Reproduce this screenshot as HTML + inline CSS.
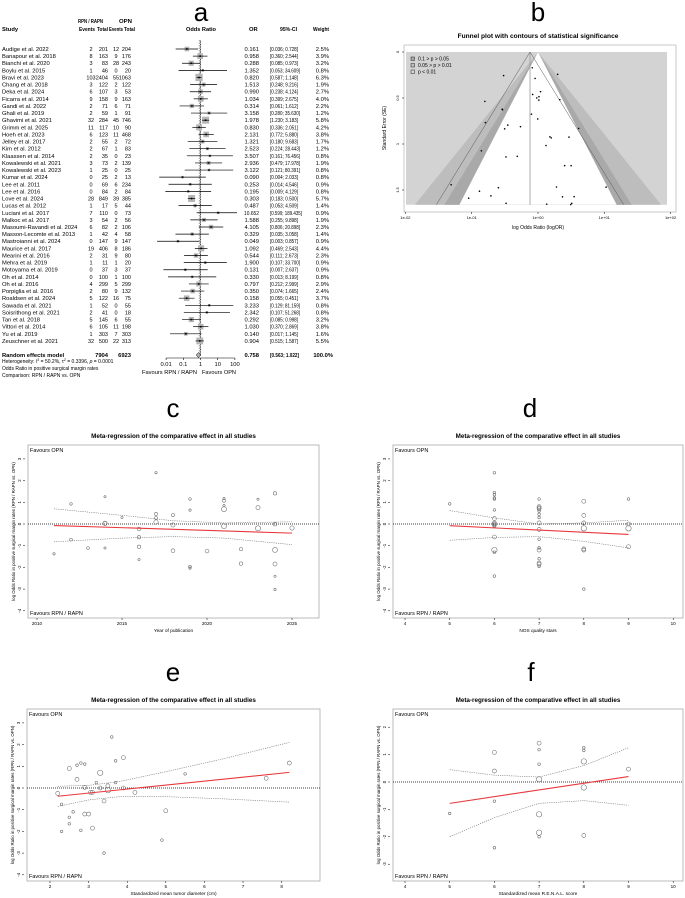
<!DOCTYPE html>
<html><head><meta charset="utf-8">
<style>
html,body{margin:0;padding:0;background:#fff;}
svg{display:block;font-family:"Liberation Sans",Arial,sans-serif;}
</style></head>
<body>
<svg id="fig" width="685" height="898" viewBox="0 0 685 898" xmlns="http://www.w3.org/2000/svg">
<g font-size="26" text-anchor="middle">
<text x="201" y="21">a</text>
<text x="538" y="21">b</text>
<text x="173" y="417">c</text>
<text x="530" y="417">d</text>
<text x="173" y="681">e</text>
<text x="531" y="681">f</text>
</g>
<g id="forest"></g>
<g id="funnel"></g>
<g id="regC"></g>
<g id="regD"></g>
<g id="regE"></g>
<g id="regF"></g>
</svg>
<script>
// ---------- forest data ----------
const studies=["Audige et al. 2022","Banapour et al. 2018","Bianchi et al. 2020","Boylu et al. 2015","Bravi et al. 2023","Chang et al. 2018","Deka et al. 2024","Ficarra et al. 2014","Gandi et al. 2022","Ghali et al. 2019","Ghavimi et al. 2021","Grimm et al. 2025","Hoeh et al. 2023","Jelley et al. 2017","Kim et al. 2012","Klaassen et al. 2014","Kowalewski et al. 2021","Kowalewski et al. 2023","Kumar et al. 2024","Lee et al. 2011","Lee et al. 2016","Love et al. 2024","Lucas et al. 2012","Luciani et al. 2017","Malkoc et al. 2017","Masoumi-Ravandi et al. 2024","Masson-Lecomte et al. 2013","Mastroianni et al. 2024","Maurice et al. 2017","Mearini et al. 2016","Mehra et al. 2019","Motoyama et al. 2019","Oh et al. 2014","Oh et al. 2016","Porpiglia et al. 2016","Roaldsen et al. 2024","Sawada et al. 2021","Soisrithong et al. 2021","Tan et al. 2018","Vittori et al. 2014","Yu et al. 2019","Zeuschner et al. 2021"];
const ev1=[2,8,3,1,103,3,6,9,2,2,32,11,6,2,2,2,3,1,0,0,0,28,1,7,3,6,1,0,19,2,1,0,0,4,2,5,1,2,5,6,1,32];
const tot1=[201,163,83,46,2404,122,107,158,71,59,284,117,123,55,67,35,73,25,25,69,84,849,17,110,54,82,42,147,406,31,11,37,100,299,80,122,52,41,145,105,303,500];
const ev2=[12,9,28,0,55,2,3,9,6,1,45,10,11,2,1,0,2,0,2,6,2,39,5,0,2,2,4,9,8,9,1,3,1,5,9,16,0,0,6,11,7,22];
const tot2=[204,176,243,20,1063,122,53,163,71,91,746,90,468,72,83,23,139,25,13,234,84,385,44,73,56,106,58,147,186,80,20,37,100,299,132,75,55,18,55,198,303,313];
const orVal=[0.161,0.958,0.288,1.352,0.820,1.513,0.990,1.034,0.314,3.158,1.978,0.830,2.131,1.321,2.523,3.507,2.936,3.122,0.090,0.253,0.195,0.303,0.487,10.652,1.588,4.105,0.329,0.049,1.092,0.544,1.900,0.131,0.330,0.797,0.350,0.158,3.233,2.342,0.292,1.030,0.140,0.904];
const ciLow=[0.036,0.360,0.085,0.053,0.587,0.248,0.238,0.399,0.061,0.280,1.230,0.336,0.772,0.180,0.224,0.161,0.479,0.121,0.004,0.014,0.009,0.183,0.053,0.599,0.255,0.806,0.035,0.003,0.469,0.111,0.107,0.007,0.013,0.212,0.074,0.055,0.129,0.107,0.085,0.370,0.017,0.515];
const ciHigh=[0.728,2.544,0.973,34.609,1.148,9.216,4.124,2.675,1.612,35.630,3.183,2.051,5.880,9.683,28.443,76.456,17.978,80.391,2.033,4.546,4.129,0.500,4.509,189.435,9.898,20.898,3.058,0.857,2.543,2.673,33.700,2.637,8.199,2.999,1.665,0.451,81.159,51.268,0.998,2.869,1.145,1.587];
const weights=[2.5,3.9,3.2,0.8,6.3,1.9,2.7,4.0,2.2,1.2,5.8,4.2,3.8,1.7,1.2,0.8,1.9,0.8,0.8,0.9,0.8,5.7,1.4,0.9,1.9,2.3,1.4,0.9,4.4,2.3,0.9,0.9,0.8,2.9,2.4,3.7,0.8,0.8,3.2,3.8,1.6,5.5];
const pooled=[0.758,0.563,1.022];
const forestTicks=[0.01,0.1,1,10,100];
const funnelTicks=[0.01,0.1,1,10,100];
const funnelTickLabels=["1e-02","1e-01","1e+00","1e+01","1e+02"];
const seTicks=[0,0.5,1.0,1.5];

// ---------- regression data ----------
const cCurveX=[2011,2015,2018,2021,2025];
const cUpper=[0.7,0.4,0.15,0.05,0.1];
const cLower=[-0.82,-0.65,-0.58,-0.65,-0.95];
const cFitX=[2011,2025];
const cFitY=[-0.07,-0.42];
const cTicksX=[2010,2015,2020,2025];

const dX=[5,6,6,6,6,6,6,6,6,6,6,6,6,6,6,6,7,7,7,7,7,7,7,7,7,7,7,7,7,7,7,7,8,8,8,8,8,8,8,9,9,9,9];
const dY=[0.93,2.36,1.45,1.35,1.2,1.15,0.65,0.25,0.05,0.0,-0.05,-0.1,-0.6,-1.2,-1.3,-2.4,1.15,0.8,0.75,0.7,0.6,0.45,0.3,0.05,-0.25,-0.7,-1.1,-1.2,-1.6,-1.8,-1.85,-1.95,1.05,0.4,0.05,-0.2,-1.15,-1.2,-3.0,1.15,0.0,-0.2,-1.05];
const dSize=[1,1,1,1,1,1,1,2,2,2,2,1,2,3,1,1,1,2,2,2,1,1,1,2,2,1,1,2,1,2,2,1,2,2,2,3,2,2,1,1,2,3,2];
const dCurveX=[5,6,7,8,9];
const dUpper=[0.62,0.28,0.0,0.05,0.17];
const dLower=[-0.75,-0.62,-0.58,-0.8,-1.1];
const dFitX=[5,9];
const dFitY=[-0.08,-0.48];
const dTicksX=[4,5,6,7,8,9,10];

const eX=[2.2,2.3,2.3,2.5,2.5,2.5,2.6,2.7,2.7,2.8,2.8,2.9,2.9,2.9,3.0,3.05,3.1,3.1,3.2,3.3,3.3,3.4,3.4,3.5,3.5,3.6,3.7,3.7,3.9,3.9,4.2,4.9,5.0,5.5,7.6,8.2];
const eY=[-0.25,-0.75,-2.0,0.9,-1.35,-1.65,-1.1,1.05,0.4,1.15,-1.95,1.1,0.03,-1.2,-1.2,-0.2,-0.2,-1.85,0.25,0.7,0.0,-0.6,-3.0,0.1,-0.1,2.35,1.25,0.25,1.4,0.0,-0.2,-2.4,-1.05,0.65,0.45,1.15];
const eSize=[2,1,1,2,1,1,1,1,2,1,1,1,2,2,2,2,2,2,1,3,2,2,1,2,3,1,1,1,2,2,2,1,2,1,2,2];
const eCurveX=[2.2,3.0,3.8,5.0,6.5,8.2];
const eUpper=[0.08,0.12,0.3,0.75,1.35,2.1];
const eLower=[-0.85,-0.55,-0.4,-0.4,-0.5,-0.65];
const eFitX=[2.2,8.2];
const eFitY=[-0.38,0.72];
const eTicksX=[2,3,4,5,6,7,8];

const fX=[5,6,6,6,6,7,7,7,7,7,7,7,8,8,8,8,8,9];
const fY=[-1.15,1.08,0.4,-0.7,-2.4,1.42,1.18,0.65,0.1,-1.18,-1.85,-2.0,1.25,1.15,0.75,-0.2,-1.95,0.47];
const fSize=[1,2,2,1,1,2,1,1,3,3,3,1,1,1,3,3,2,2];
const fCurveX=[5,6,7,8,9];
const fUpper=[0.45,0.25,0.18,0.6,1.25];
const fLower=[-2.0,-1.3,-0.78,-0.68,-0.85];
const fFitX=[5,9];
const fFitY=[-0.78,0.2];
const fTicksX=[4,5,6,7,8,9,10];

const NS="http://www.w3.org/2000/svg";
function mk(parent,tag,attrs,text){const e=document.createElementNS(NS,tag);for(const k in attrs)e.setAttribute(k,attrs[k]);if(text!==undefined)e.textContent=text;parent.appendChild(e);return e;}
function fit(el,w){el.setAttribute('textLength',w);el.setAttribute('lengthAdjust','spacingAndGlyphs');return el;}

// ---------- forest plot ----------
(function(){
const g=document.getElementById('forest');
const fx=v=>200.5+17.2*Math.log10(v);
const rowY=i=>49+7.12*i;
const hdr=mk(g,'g',{'font-size':'5.8','font-weight':'bold'});


fit(mk(hdr,'text',{x:78,y:23},'RPN / RAPN'),25);
fit(mk(hdr,'text',{x:119,y:23},'OPN'),13);
mk(hdr,'text',{x:2,y:31},'Study');
fit(mk(hdr,'text',{x:79,y:31},'Events'),16);
fit(mk(hdr,'text',{x:97,y:31},'Total'),11);
fit(mk(hdr,'text',{x:109,y:31},'Events'),14);
fit(mk(hdr,'text',{x:124,y:31},'Total'),11);
fit(mk(hdr,'text',{x:186,y:31},'Odds Ratio'),30);
mk(hdr,'text',{x:249,y:31},'OR');
fit(mk(hdr,'text',{x:280,y:31},'95%-CI'),17);
fit(mk(hdr,'text',{x:313,y:31},'Weight'),16);
const l1=mk(g,'line',{x1:fx(1),y1:40,x2:fx(1),y2:356,stroke:'#000','stroke-width':0.7});


const l2=mk(g,'line',{x1:fx(pooled[0])+1.5,y1:40,x2:fx(pooled[0])+1.5,y2:356,stroke:'#aaa','stroke-width':2.2,'stroke-dasharray':'1.5,1'});


for(let i=0;i<studies.length;i++){
  const y=rowY(i);
  const row=mk(g,'g',{'font-size':'5.8'});
  
  
  mk(row,'text',{x:2,y:y+2},studies[i]);
  mk(row,'text',{x:91,y:y+2,'text-anchor':'middle','font-size':'5.5'},ev1[i]);
  mk(row,'text',{x:108,y:y+2,'text-anchor':'end','font-size':'5.5'},tot1[i]);
  mk(row,'text',{x:116,y:y+2,'text-anchor':'middle','font-size':'5.5'},ev2[i]);
  mk(row,'text',{x:131,y:y+2,'text-anchor':'end','font-size':'5.5'},tot2[i]);
  const ot=mk(row,'text',{x:259,y:y+2,'text-anchor':'end'},orVal[i].toFixed(3));
  if(orVal[i]>=10) fit(ot,15);
  const cl=mk(row,'text',{x:270,y:y+2},'['+ciLow[i].toFixed(3)+'; '+ciHigh[i].toFixed(3)+']');
  const len=ciHigh[i]>=100?32:(ciHigh[i]>=10?30:28);
  fit(cl,len);
  mk(row,'text',{x:329,y:y+2,'text-anchor':'end'},weights[i].toFixed(1)+'%');
  const s=2.9*Math.sqrt(weights[i]);
  const sq=mk(g,'rect',{x:fx(orVal[i])-s/2,y:y-s/2,width:s,height:s,fill:'#b5b5b5'});
  
  
  const x1=Math.max(fx(ciLow[i]),155),x2=Math.min(fx(ciHigh[i]),237);
  const ci=mk(g,'line',{x1:x1,y1:y,x2:x2,y2:y,stroke:'#000','stroke-width':0.7});
  
  
  const pt=mk(g,'rect',{x:fx(orVal[i])-0.8,y:y-0.8,width:1.6,height:1.6,fill:'#000'});
  
  
}
const py=355;
const tot=mk(g,'g',{'font-size':'5.8','font-weight':'bold'});


mk(tot,'text',{x:2,y:py+2},'Random effects model');
mk(tot,'text',{x:108,y:py+2,'text-anchor':'end'},tot1.reduce((a,b)=>a+b,0));
mk(tot,'text',{x:131,y:py+2,'text-anchor':'end'},tot2.reduce((a,b)=>a+b,0));
mk(tot,'text',{x:259,y:py+2,'text-anchor':'end'},pooled[0].toFixed(3));
fit(mk(tot,'text',{x:270,y:py+2},'['+pooled[1].toFixed(3)+'; '+pooled[2].toFixed(3)+']'),29);
mk(tot,'text',{x:333,y:py+2,'text-anchor':'end'},'100.0%');
const dm=mk(g,'polygon',{points:`${fx(pooled[1])},${py} ${fx(pooled[0])},${py-2.5} ${fx(pooled[2])},${py} ${fx(pooled[0])},${py+2.5}`,fill:'#b5b5b5',stroke:'#000','stroke-width':0.5});


const ax=mk(g,'line',{x1:fx(0.01),y1:358,x2:fx(100),y2:358,stroke:'#000','stroke-width':0.6});


forestTicks.forEach(t=>{
  mk(g,'line',{x1:fx(t),y1:358,x2:fx(t),y2:360,stroke:'#000','stroke-width':0.6});
  const tl=mk(g,'text',{x:fx(t),y:366,'font-size':'5.8','text-anchor':'middle'},String(t));
  
  
});
const fl=fit(mk(g,'text',{x:142,y:374,'font-size':'5.8'},'Favours RPN / RAPN'),55);


const fr=fit(mk(g,'text',{x:202,y:374,'font-size':'5.8'},'Favours OPN'),34);


const notes=mk(g,'g',{'font-size':'5'});


const het=mk(notes,'text',{x:2,y:363});
het.innerHTML='Heterogeneity: <tspan font-style="italic">I</tspan><tspan dy="-2" font-size="3.5">2</tspan><tspan dy="2"> = 50.2%, τ</tspan><tspan dy="-2" font-size="3.5">2</tspan><tspan dy="2"> = 0.3396, </tspan><tspan font-style="italic">p</tspan> = 0.0001';
mk(notes,'text',{x:2,y:370},'Odds Ratio in positive surgical margin rates');
mk(notes,'text',{x:2,y:377},'Comparison: RPN / RAPN vs. OPN');
})();

// ---------- funnel plot ----------
(function(){
const g=document.getElementById('funnel');
const cx=538,k=66.3/Math.LN10;
const fx=v=>cx+66.3*Math.log10(v);
const fy=s=>52+92*s;
const seMax=1.66,yb=fy(seMax);
const title=mk(g,'text',{x:538,y:38,'font-size':'6.6','font-weight':'bold','text-anchor':'middle'},'Funnel plot with contours of statistical significance');


const fr=mk(g,'rect',{x:404,y:45,width:272,height:167,fill:'#fff',stroke:'#bbb','stroke-width':0.8});


const bg=mk(g,'rect',{x:406,y:52,width:261,height:yb-52,fill:'#d3d3d3'});


[[2.576,'#bdbdbd','contour-p-001-005'],[1.96,'#a9a9a9','contour-p-005-010'],[1.645,'#ffffff','contour-p-above-010']].forEach(([z,c,n])=>{
  const w=z*seMax*k;
  const p=mk(g,'polygon',{points:`${cx},52 ${cx-w},${yb} ${cx+w},${yb}`,fill:c});
  
  
});
const pc=fx(pooled[0]);
const vl=mk(g,'line',{x1:pc,y1:52,x2:pc,y2:yb,stroke:'#999','stroke-width':0.8});


[-1,1].forEach(sg=>{
  const dl=mk(g,'line',{x1:pc,y1:52,x2:pc+sg*1.96*seMax*k,y2:yb,stroke:'#555','stroke-width':0.5});
  
  
});
for(let i=0;i<orVal.length;i++){
  const se=(Math.log(ciHigh[i])-Math.log(ciLow[i]))/3.92;
  const d=mk(g,'circle',{cx:fx(orVal[i]),cy:fy(se),r:0.8,fill:'#000'});
  
  
}
const lg=mk(g,'g',{'font-size':'5'});


[['0.1 > p > 0.05','#a9a9a9'],['0.05 > p > 0.01','#bdbdbd'],['p < 0.01','#d3d3d3']].forEach((it,j)=>{
  mk(lg,'rect',{x:411,y:57+j*6.5,width:3.5,height:3.5,fill:it[1],stroke:'#000','stroke-width':0.4});
  mk(lg,'text',{x:418,y:60.5+j*6.5},it[0]);
});
funnelTicks.forEach((t,j)=>{
  mk(g,'line',{x1:fx(t),y1:212,x2:fx(t),y2:214,stroke:'#000','stroke-width':0.5});
  const tl=mk(g,'text',{x:fx(t),y:219,'font-size':'4','text-anchor':'middle'},funnelTickLabels[j]);
  
  
});
seTicks.forEach(t=>{
  mk(g,'line',{x1:402,y1:fy(t),x2:404,y2:fy(t),stroke:'#000','stroke-width':0.5});
  const tl=mk(g,'text',{x:399,y:fy(t),'font-size':'4','text-anchor':'middle',transform:`rotate(-90 399 ${fy(t)})`},String(t));
  
  
});
const xt=mk(g,'text',{x:538,y:229,'font-size':'5','text-anchor':'middle'},'log Odds Ratio (logOR)');


const yt=mk(g,'text',{x:386,y:128,'font-size':'5','text-anchor':'middle',transform:'rotate(-90 386 128)'},'Standard Error (SE)');


})();

// ---------- regression plots ----------
function drawReg(id,o){
  const g=document.getElementById(id);
  const X=v=>o.x0px+(v-o.x0)*o.xs;
  const Y=v=>o.y0px-v*o.ys;
  const t=mk(g,'text',{x:(o.L+o.R)/2,y:o.T-7,'font-size':'6.3','font-weight':'bold','text-anchor':'middle'},'Meta-regression of the comparative effect in all studies');
  
  
  const fr=mk(g,'rect',{x:o.L,y:o.T,width:o.R-o.L,height:o.B-o.T,fill:'#fff',stroke:'#aaa','stroke-width':0.8});
  
  
  const zl=mk(g,'line',{x1:o.L,y1:Y(0),x2:o.R,y2:Y(0),stroke:'#000','stroke-width':0.7,'stroke-dasharray':'1,1'});
  
  
  const ft=mk(g,'text',{x:o.L+2,y:o.T+7,'font-size':'5.5'},'Favours OPN');
  
  
  const fb=mk(g,'text',{x:o.L+2,y:o.B-3,'font-size':'5.5'},'Favours RPN / RAPN');
  
  
  for(let i=0;i<o.px.length;i++){
    const c=mk(g,'circle',{cx:X(o.px[i]),cy:Y(o.py[i]),r:o.pr[i],fill:'none',stroke:'#666','stroke-width':0.55});
    
    
  }
  [o.up,o.lo].forEach((arr,j)=>{
    const p=mk(g,'polyline',{points:o.cx.map((v,i)=>X(v)+','+Y(arr[i])).join(' '),fill:'none',stroke:'#777','stroke-width':0.6,'stroke-dasharray':'1.2,1'});
    
    
  });
  const rl=mk(g,'line',{x1:X(o.fx[0]),y1:Y(o.fy[0]),x2:X(o.fx[1]),y2:Y(o.fy[1]),stroke:'#e8383d','stroke-width':1.1});
  
  
  o.xt.forEach(v=>{
    mk(g,'line',{x1:X(v),y1:o.B,x2:X(v),y2:o.B+2,stroke:'#000','stroke-width':0.5});
    const tl=mk(g,'text',{x:X(v),y:o.B+7,'font-size':'4.6','text-anchor':'middle'},String(v));
    
    
  });
  for(let v=o.yMin;v<=o.yMax;v++){
    mk(g,'line',{x1:o.L-5,y1:Y(v),x2:o.L-3,y2:Y(v),stroke:'#000','stroke-width':0.5});
    const tl=mk(g,'text',{x:o.L-7,y:Y(v),'font-size':'4.3','text-anchor':'middle',transform:`rotate(-90 ${o.L-7} ${Y(v)})`},String(v));
    
    
  }
  const xtt=mk(g,'text',{x:(o.L+o.R)/2,y:o.B+14,'font-size':'4.8','text-anchor':'middle'},o.xTitle);
  
  
  const ym=(o.T+o.B)/2,yx=o.L-13;
  const ytt=mk(g,'text',{x:yx,y:ym,'font-size':'4.4','text-anchor':'middle',transform:`rotate(-90 ${yx} ${ym})`},'log Odds Ratio in positive surgical margin rates (RPN / RAPN vs. OPN)');
  
  
}
const years=studies.map(s=>+s.slice(-4));
drawReg('regC',{L:28,R:319,T:445,B:618,x0:2010,x0px:37,xs:17,y0px:524,ys:21.7,yMin:-4,yMax:3,
  px:years,py:orVal.map(v=>Math.log(v)),pr:weights.map(w=>0.3+0.9*Math.sqrt(w)),
  cx:cCurveX,up:cUpper,lo:cLower,fx:cFitX,fy:cFitY,xt:cTicksX,xTitle:'Year of publication'});
drawReg('regD',{L:393,R:683,T:445,B:618,x0:4,x0px:405,xs:44.7,y0px:524,ys:21.7,yMin:-4,yMax:3,
  px:dX,py:dY,pr:dSize.map(s=>0.6+0.7*s),
  cx:dCurveX,up:dUpper,lo:dLower,fx:dFitX,fy:dFitY,xt:dTicksX,xTitle:'NOS quality stars'});
drawReg('regE',{L:27,R:320,T:709,B:881,x0:2,x0px:50,xs:38.6,y0px:788,ys:21.7,yMin:-4,yMax:3,
  px:eX,py:eY,pr:eSize.map(s=>0.6+0.7*s),
  cx:eCurveX,up:eUpper,lo:eLower,fx:eFitX,fy:eFitY,xt:eTicksX,xTitle:'Standardized mean tumor diameter (cm)'});
drawReg('regF',{L:393,R:683,T:709,B:881,x0:4,x0px:405,xs:44.7,y0px:782,ys:27.4,yMin:-3,yMax:2,
  px:fX,py:fY,pr:fSize.map(s=>0.6+0.7*s),
  cx:fCurveX,up:fUpper,lo:fLower,fx:fFitX,fy:fFitY,xt:fTicksX,xTitle:'Standardized mean R.E.N.A.L. score'});
</script>
</body></html>
